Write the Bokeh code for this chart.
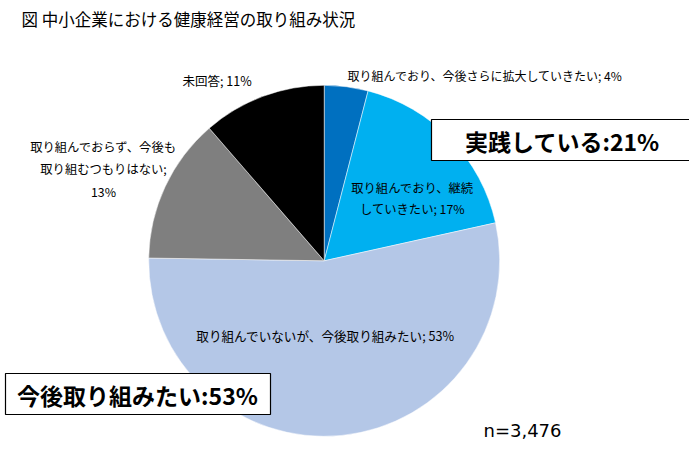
from bokeh.plotting import figure
from bokeh.models import Range1d, ColumnDataSource
from bokeh.core.properties import value
from bokeh.embed import file_html
from bokeh.resources import INLINE
import math

# ---- data ----
title = "図 中小企業における健康経営の取り組み状況"
categories = [
    "取り組んでおり、今後さらに拡大していきたい",
    "取り組んでおり、継続していきたい",
    "取り組んでいないが、今後取り組みたい",
    "取り組んでおらず、今後も取り組むつもりはない",
    "未回答",
]
shares = [4.0, 17.4, 53.4, 13.3, 11.3]          # percent
colors = ["#0070C0", "#00B0F0", "#B4C7E7", "#7F7F7F", "#000000"]
callout_texts = ["実践している:21%", "今後取り組みたい:53%"]
note_text = "n=3,476"

# label line-break positions in the composed "cat; pct%" strings
label_breaks = [[], [10], [], [12, 23], []]

JP = "Noto Sans CJK JP"

W, H = 689, 466
p = figure(width=W, height=H, output_backend="svg", toolbar_location=None,
           x_range=Range1d(0, W), y_range=Range1d(474 - H, 474),
           min_border=0, outline_line_color=None, background_fill_color="white",
           border_fill_color="white")
p.axis.visible = False
p.grid.visible = False

def sy(v):  # screen y -> data y
    return 474 - v

# ---- pie ----
cx, cy, r = 323.7, sy(260.3), 175.5
total = sum(shares)
starts, ends = [], []
c = 0.0
for s in shares:
    starts.append(math.pi / 2 - 2 * math.pi * c / total)
    c += s
    ends.append(math.pi / 2 - 2 * math.pi * c / total)
src = ColumnDataSource(dict(start=starts, end=ends, color=colors))
p.wedge(x=cx, y=cy, radius=r, start_angle="start", end_angle="end",
        direction="clock", fill_color="color", line_color="white",
        line_width=0.5, source=src)

# ---- slice labels ----
label_pos = [  # (x, [y per line], align, size)
    (347, [75], "left", "12px"),
    (412, [187, 208], "center", "12.3px"),
    (325, [335], "center", "12.6px"),
    (103, [146, 168, 191], "center", "12.3px"),
    (182, [80], "left", "12.5px"),
]
for cat, s, brk, (lx, lys, al, fs) in zip(categories, shares, label_breaks, label_pos):
    txt = f"{cat}; {round(s)}%"
    cuts = [0] + brk + [len(txt)]
    lines = [txt[a:b].strip() for a, b in zip(cuts[:-1], cuts[1:])]
    for line, ly in zip(lines, lys):
        p.text(x=[lx], y=[sy(ly)], text=[line], text_font=value(JP),
               text_font_size=fs, text_align=al, text_baseline="middle",
               text_color="black")

# ---- title ----
p.text(x=[21], y=[sy(18)], text=[title], text_font=value(JP),
       text_font_size="16.5px", text_align="left", text_baseline="middle",
       text_color="black")

# ---- callout boxes ----
boxes = [(431, 695, 119, 160, 562, 140), (5, 270, 373, 414, 137, 394)]
for t, (l, rr, tp, bt, tx, ty) in zip(callout_texts, boxes):
    p.quad(left=l, right=rr, top=sy(tp), bottom=sy(bt), fill_color="white",
           line_color="black", line_width=1.2)
    p.text(x=[tx], y=[sy(ty)], text=[t], text_font=value(JP),
           text_font_size="23px", text_font_style="bold", text_align="center",
           text_baseline="middle", text_color="black")

# ---- n note ----
p.text(x=[483], y=[sy(430)], text=[note_text], text_font=value("DejaVu Sans"),
       text_font_size="18px", text_align="left", text_baseline="middle",
       text_color="black")

open("out.html", "w").write(file_html(p, INLINE))
